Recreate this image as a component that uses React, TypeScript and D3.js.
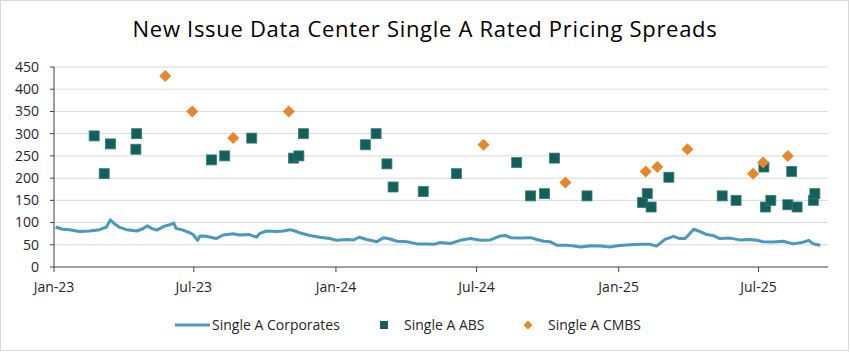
import * as d3 from 'd3'

// Single A Corporates spread (bps)
const corpDates = [
  '2023-01-03', '2023-01-12', '2023-01-21', '2023-02-03', '2023-02-16', '2023-03-01', '2023-03-10', '2023-03-15',
  '2023-03-21', '2023-03-27', '2023-04-05', '2023-04-18', '2023-04-26', '2023-05-02', '2023-05-07', '2023-05-14',
  '2023-05-24', '2023-05-31', '2023-06-05', '2023-06-08', '2023-06-17', '2023-06-26', '2023-06-30', '2023-07-06',
  '2023-07-09', '2023-07-17', '2023-07-30', '2023-08-08', '2023-08-21', '2023-08-29', '2023-09-11', '2023-09-20',
  '2023-09-24', '2023-10-03', '2023-10-16', '2023-10-25', '2023-11-02', '2023-11-09', '2023-11-15', '2023-11-28',
  '2023-12-11', '2023-12-24', '2024-01-02', '2024-01-15', '2024-01-24', '2024-01-31', '2024-02-10', '2024-02-23',
  '2024-03-03', '2024-03-11', '2024-03-20', '2024-04-02', '2024-04-15', '2024-04-28', '2024-05-07', '2024-05-15',
  '2024-05-28', '2024-06-10', '2024-06-23', '2024-07-06', '2024-07-19', '2024-08-01', '2024-08-07', '2024-08-14',
  '2024-08-27', '2024-09-09', '2024-09-17', '2024-09-26', '2024-10-04', '2024-10-13', '2024-10-26', '2024-11-04',
  '2024-11-13', '2024-11-26', '2024-12-08', '2024-12-21', '2024-12-30', '2025-01-07', '2025-01-16', '2025-01-29',
  '2025-02-11', '2025-02-19', '2025-03-02', '2025-03-13', '2025-03-21', '2025-03-28', '2025-04-03', '2025-04-08',
  '2025-04-16', '2025-04-25', '2025-05-03', '2025-05-12', '2025-05-25', '2025-06-07', '2025-06-20', '2025-06-29',
  '2025-07-07', '2025-07-20', '2025-08-02', '2025-08-15', '2025-08-26', '2025-09-04', '2025-09-10', '2025-09-19',
]
const corpValues = [
  90, 85, 84, 80, 81, 84, 90, 106,
  96, 89, 84, 81, 86, 93, 87, 83,
  92, 95, 99, 87, 83, 77, 73, 60,
  70, 69, 64, 72, 75, 72, 73, 67,
  75, 81, 80, 81, 84, 81, 77, 71,
  67, 64, 60, 62, 61, 67, 62, 57,
  66, 63, 58, 57, 52, 52, 51, 55,
  53, 60, 64, 60, 61, 70, 71, 66,
  65, 66, 62, 58, 57, 49, 49, 47,
  45, 48, 47, 45, 48, 49, 50, 51,
  51, 47, 62, 69, 64, 64, 75, 85,
  80, 73, 71, 64, 65, 61, 62, 60,
  57, 56, 58, 52, 55, 60, 52, 49,
]

// Single A ABS new issues
const absDates = [
  '2023-02-22', '2023-03-07', '2023-03-15', '2023-04-17', '2023-04-18', '2023-07-24', '2023-08-10', '2023-09-14',
  '2023-11-07', '2023-11-14', '2023-11-20', '2024-02-08', '2024-02-22', '2024-03-07', '2024-03-15', '2024-04-23',
  '2024-06-05', '2024-08-22', '2024-09-09', '2024-09-27', '2024-10-10', '2024-11-21', '2025-02-01', '2025-02-07',
  '2025-02-12', '2025-03-07', '2025-05-15', '2025-06-02', '2025-07-08', '2025-07-10', '2025-07-17', '2025-08-08',
  '2025-08-13', '2025-08-20', '2025-09-10', '2025-09-12',
]
const absValues = [
  295, 210, 277, 265, 300, 241, 250, 290,
  245, 250, 300, 275, 300, 232, 180, 170,
  210, 235, 160, 165, 245, 160, 145, 165,
  135, 202, 160, 150, 225, 135, 150, 140,
  215, 135, 150, 165,
]

// Single A CMBS new issues
const cmbsDates = [
  '2023-05-25', '2023-06-29', '2023-08-21', '2023-11-01', '2024-07-10', '2024-10-24',
  '2025-02-05', '2025-02-20', '2025-03-31', '2025-06-24', '2025-07-07', '2025-08-08',
]
const cmbsValues = [430, 350, 290, 350, 275, 190, 215, 225, 265, 210, 235, 250]

const yTicks = [0, 50, 100, 150, 200, 250, 300, 350, 400, 450]
const xTickDates = ['2023-01-01', '2023-07-01', '2024-01-01', '2024-07-01', '2025-01-01', '2025-07-01']

const W = 850
const H = 352
const margin = { top: 67, right: 22, bottom: 85, left: 54 }
const font = "'Open Sans', 'Liberation Sans', sans-serif"

const CORP = '#4799c0'
const ABS = '#125f5c'
const CMBS = '#e8862a'

const parse = d3.timeParse('%Y-%m-%d')

export default function App() {
  const x = d3.scaleTime()
    .domain([parse('2023-01-01')!, parse('2025-09-29')!])
    .range([margin.left, W - margin.right])
  const y = d3.scaleLinear().domain([0, 450]).range([H - margin.bottom, margin.top])

  const corp = corpDates.map((d, i) => ({ date: parse(d)!, v: corpValues[i] }))
  const abs = absDates.map((d, i) => ({ date: parse(d)!, v: absValues[i] }))
  const cmbs = cmbsDates.map((d, i) => ({ date: parse(d)!, v: cmbsValues[i] }))

  const line = d3.line<{ date: Date; v: number }>()
    .x(d => x(d.date))
    .y(d => y(d.v))

  const fmt = d3.timeFormat('%b-%y')
  const sq = 10
  const dm = 6

  return (
    <div>
      <style>{'body{margin:0}'}</style>
      <svg width={W} height={H} style={{ display: 'block', fontFamily: font }}>
        <rect x={0.5} y={0.5} width={W - 2} height={H - 2} fill="#fff" stroke="#d9d9d9" />

        <text x={W / 2} y={37} textAnchor="middle" fontSize={22} letterSpacing={0.7} fill="#000">
          New Issue Data Center Single A Rated Pricing Spreads
        </text>

        {/* gridlines */}
        {yTicks.filter(t => t > 0).map(t => (
          <line key={t} x1={x.range()[0]} x2={x.range()[1]} y1={y(t)} y2={y(t)} stroke="#d9d9d9" strokeWidth={1} />
        ))}

        {/* y axis */}
        <line x1={margin.left} x2={margin.left} y1={y(450)} y2={y(0)} stroke="#404040" />
        {yTicks.map(t => (
          <g key={t}>
            <line x1={margin.left - 4} x2={margin.left} y1={y(t)} y2={y(t)} stroke="#404040" />
            <text x={margin.left - 15} y={y(t)} dy="0.35em" textAnchor="end" fontSize={14} fill="#262626">{t}</text>
          </g>
        ))}

        {/* x axis */}
        <line x1={x.range()[0]} x2={x.range()[1]} y1={y(0)} y2={y(0)} stroke="#404040" />
        {xTickDates.map(d => {
          const dt = parse(d)!
          return (
            <g key={d}>
              <line x1={x(dt)} x2={x(dt)} y1={y(0)} y2={y(0) + 5} stroke="#404040" />
              <text x={x(dt)} y={y(0) + 25} textAnchor="middle" fontSize={14} fill="#262626">{fmt(dt)}</text>
            </g>
          )
        })}

        {/* corporates line */}
        <path d={line(corp) ?? ''} fill="none" stroke={CORP} strokeWidth={3} strokeLinejoin="round" />

        {/* ABS squares */}
        {abs.map((d, i) => (
          <rect key={i} x={x(d.date) - sq / 2} y={y(d.v) - sq / 2} width={sq} height={sq}
            fill={ABS} stroke="#3b7d7a" strokeWidth={0.8} />
        ))}

        {/* CMBS diamonds */}
        {cmbs.map((d, i) => (
          <path key={i}
            d={`M${x(d.date)},${y(d.v) - dm}L${x(d.date) + dm},${y(d.v)}L${x(d.date)},${y(d.v) + dm}L${x(d.date) - dm},${y(d.v)}Z`}
            fill={CMBS} />
        ))}

        {/* legend */}
        <g fontSize={14} fill="#262626">
          <line x1={175} x2={210} y1={325} y2={325} stroke={CORP} strokeWidth={3} />
          <text x={212} y={325} dy="0.35em">Single A Corporates</text>
          <rect x={380} y={321} width={8} height={8} fill={ABS} />
          <text x={404} y={325} dy="0.35em">Single A ABS</text>
          <path d="M528,320.5L532.5,325L528,329.5L523.5,325Z" fill={CMBS} />
          <text x={548} y={325} dy="0.35em">Single A CMBS</text>
        </g>
      </svg>
    </div>
  )
}
